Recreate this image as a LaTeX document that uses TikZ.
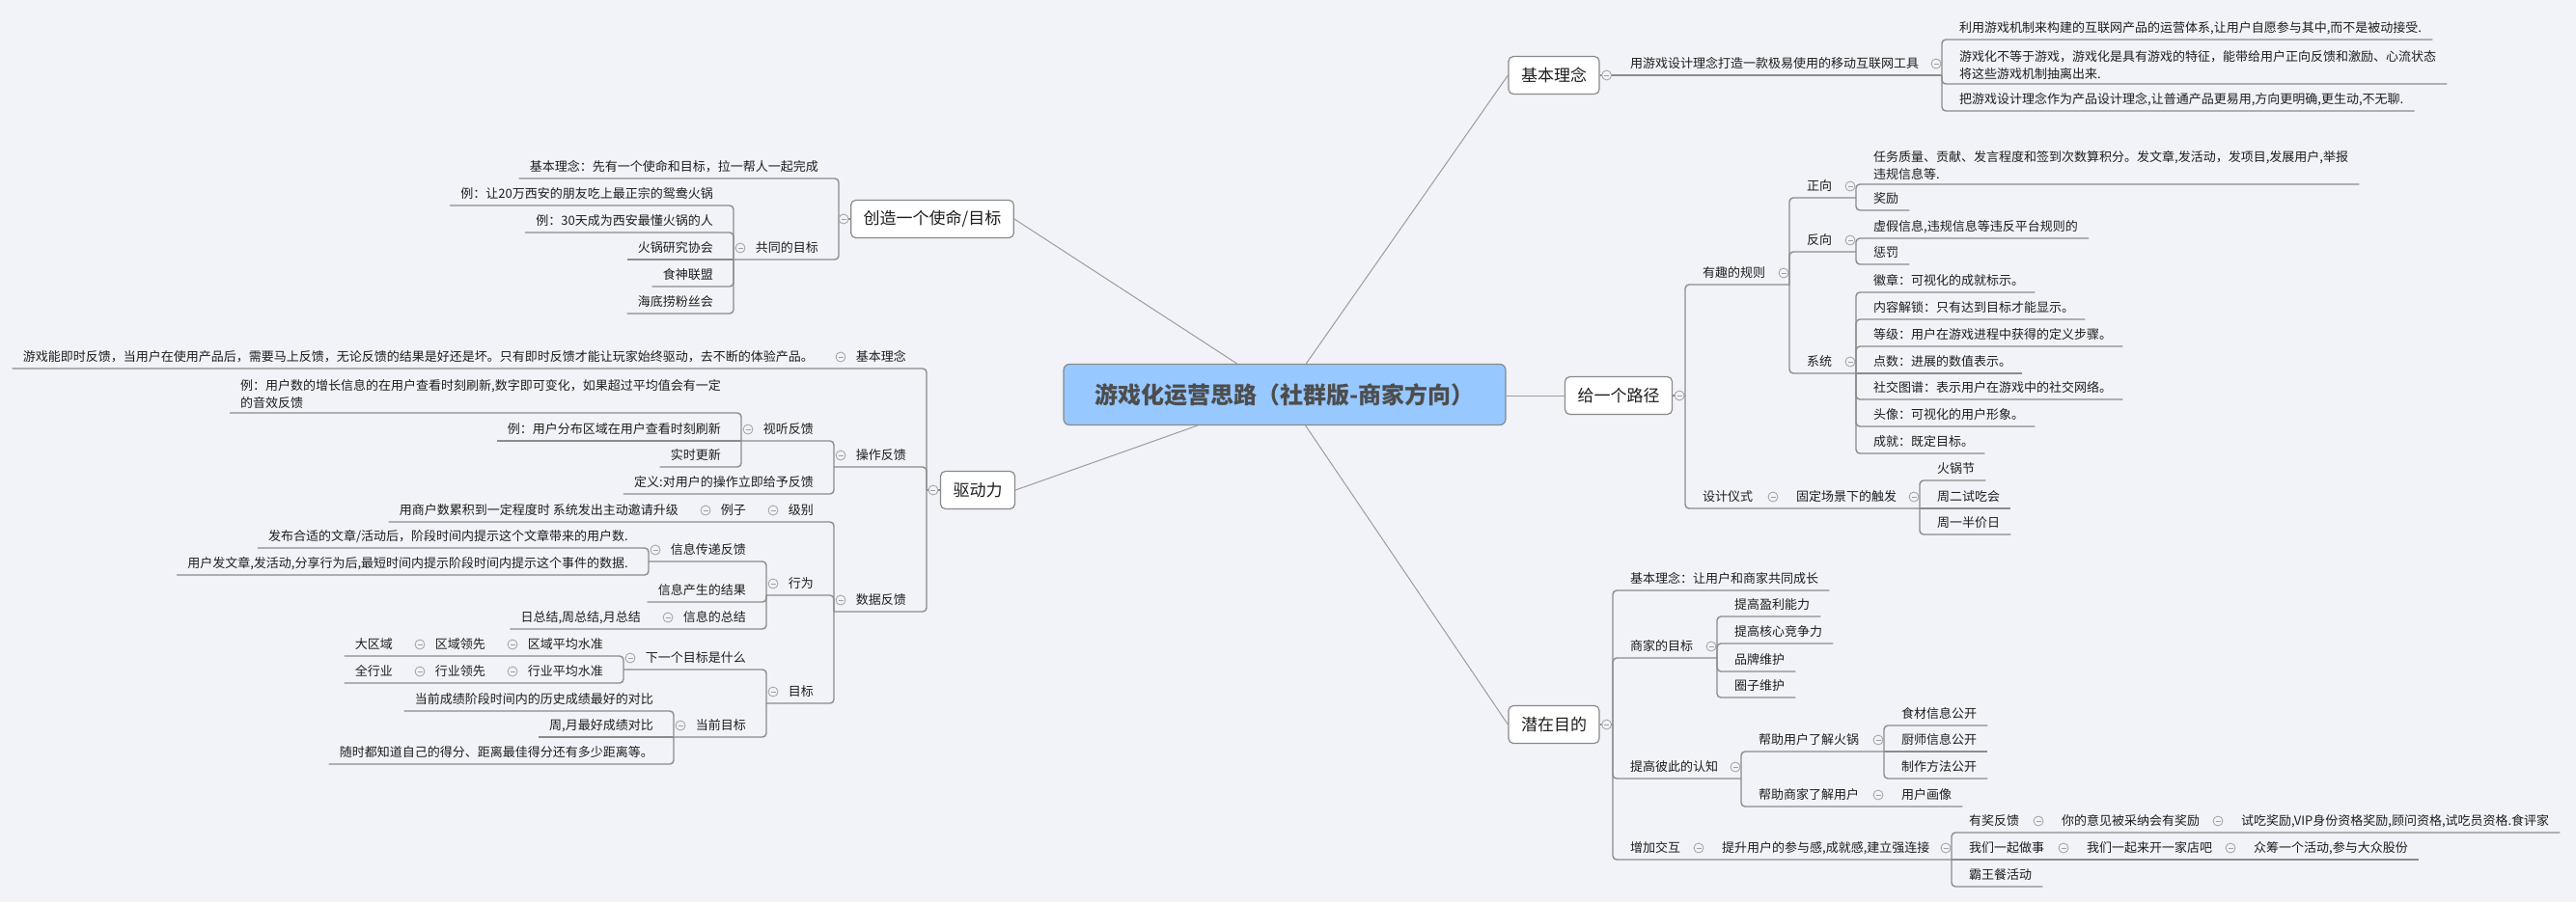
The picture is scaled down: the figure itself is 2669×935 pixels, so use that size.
\documentclass[tikz,border=0pt]{standalone}
\usepackage{fontspec}
\setmainfont{Noto Sans CJK SC}
\usetikzlibrary{calc, backgrounds}

\definecolor{bgpaper}{HTML}{F2F3F8}
\definecolor{linegray}{HTML}{8C8C8C}
\definecolor{spokegray}{HTML}{9C9C9C}
\definecolor{boxline}{HTML}{8A8A8A}
\definecolor{rootfill}{HTML}{97C8FF}
\definecolor{roottext}{HTML}{4D4D4D}
\definecolor{inkgray}{HTML}{1E1E1E}
\definecolor{foldgray}{HTML}{A0A0A0}

\tikzset{
    rootbox/.style={draw=boxline, fill=rootfill, rounded corners=6, line width=1.2, minimum width=458, minimum height=63, text=roottext, font=\fontsize{24}{28}\selectfont\bfseries},
    topicbox/.style={draw=boxline, fill=white, rounded corners=5, line width=1.2, minimum height=39, inner xsep=13, text=inkgray, font=\fontsize{17}{20}\selectfont},
    txt/.style={inner xsep=11, inner ysep=4, text=inkgray, font=\fontsize{13}{18.5}\selectfont},
    leaf/.style={txt, anchor=south west, text height=10, text depth=3},
    lleaf/.style={txt, anchor=south east, text height=10, text depth=3},
    note/.style={txt, anchor=south west, align=left},
    lnote/.style={txt, anchor=south east, align=left},
    twig/.style={draw=linegray, line width=1.4, rounded corners=4},
    spoke/.style={draw=spokegray, line width=1},
    foldmark/.style={circle, draw=foldgray, fill=bgpaper, line width=0.8, minimum size=10, inner sep=0,
        path picture={\draw[foldgray, line width=0.8] ([xshift=-2.5]path picture bounding box.center) -- ([xshift=2.5]path picture bounding box.center);}}
}

\begin{document}
\begin{tikzpicture}[x=1pt, y=-1pt]
    \useasboundingbox (0,0) rectangle (2669,935);

    % Centre
    \node[rootbox] (root) at (1331,409) {游戏化运营思路（社群版-商家方向）};

    % Basic idea
    \node[topicbox] (concept) at (1610,78) {基本理念};
    \coordinate (fCon) at (2012,78);
    \node[leaf] (con) at (1678,78) {用游戏设计理念打造一款极易使用的移动互联网工具};
    \node[leaf] (con1) at (2019,41) {利用游戏机制来构建的互联网产品的运营体系,让用户自愿参与其中,而不是被动接受.};
    \node[note] (con2) at (2019,87) {游戏化不等于游戏，游戏化是具有游戏的特征，能带给用户正向反馈和激励、心流状态\\将这些游戏机制抽离出来.};
    \node[leaf] (con3) at (2019,115) {把游戏设计理念作为产品设计理念,让普通产品更易用,方向更明确,更生动,不无聊.};

    % Give a path
    \node[topicbox] (path) at (1677,410) {给一个路径};
    \coordinate (fPath) at (1746,410);
    \node[leaf] (rule) at (1753,295) {有趣的规则};
    \coordinate (fRule) at (1854,295);
    \node[leaf] (pos) at (1861,205) {正向};
    \coordinate (fPos) at (1923,205);
    \node[note] (pos1) at (1930,191) {任务质量、贡献、发言程度和签到次数算积分。发文章,发活动，发项目,发展用户,举报\\违规信息等.};
    \node[leaf] (pos2) at (1930,218) {奖励};
    \node[leaf] (neg) at (1861,261) {反向};
    \coordinate (fNeg) at (1923,261);
    \node[leaf] (neg1) at (1930,247) {虚假信息,违规信息等违反平台规则的};
    \node[leaf] (neg2) at (1930,274) {惩罚};
    \node[leaf] (sys) at (1861,387) {系统};
    \coordinate (fSys) at (1923,387);
    \node[leaf] (sys1) at (1930,303) {徽章：可视化的成就标示。};
    \node[leaf] (sys2) at (1930,331) {内容解锁：只有达到目标才能显示。};
    \node[leaf] (sys3) at (1930,359) {等级：用户在游戏进程中获得的定义步骤。};
    \node[leaf] (sys4) at (1930,387) {点数：进展的数值表示。};
    \node[leaf] (sys5) at (1930,414) {社交图谱：表示用户在游戏中的社交网络。};
    \node[leaf] (sys6) at (1930,442) {头像：可视化的用户形象。};
    \node[leaf] (sys7) at (1930,470) {成就：既定目标。};
    \node[leaf] (rite) at (1753,527) {设计仪式};
    \coordinate (fRite) at (1843,527);
    \node[leaf] (scene) at (1850,527) {固定场景下的触发};
    \coordinate (fScene) at (1989,527);
    \node[leaf] (rite1) at (1996,498) {火锅节};
    \node[leaf] (rite2) at (1996,527) {周二试吃会};
    \node[leaf] (rite3) at (1996,554) {周一半价日};

    % Hidden aim
    \node[topicbox] (aim) at (1610,751) {潜在目的};
    \coordinate (fAim) at (1671,751);
    \node[leaf] (aim0) at (1678,612) {基本理念：让用户和商家共同成长};
    \node[leaf] (shop) at (1678,682) {商家的目标};
    \coordinate (fShop) at (1779,682);
    \node[leaf] (shop1) at (1786,639) {提高盈利能力};
    \node[leaf] (shop2) at (1786,667) {提高核心竞争力};
    \node[leaf] (shop3) at (1786,696) {品牌维护};
    \node[leaf] (shop4) at (1786,723) {圈子维护};
    \node[leaf] (know) at (1678,807) {提高彼此的认知};
    \coordinate (fKnow) at (1804,807);
    \node[leaf] (knowA) at (1811,779) {帮助用户了解火锅};
    \coordinate (fKnowA) at (1952,779);
    \node[leaf] (knowA1) at (1959,752) {食材信息公开};
    \node[leaf] (knowA2) at (1959,779) {厨师信息公开};
    \node[leaf] (knowA3) at (1959,807) {制作方法公开};
    \node[leaf] (knowB) at (1811,836) {帮助商家了解用户};
    \coordinate (fKnowB) at (1952,836);
    \node[leaf] (knowB1) at (1959,836) {用户画像};
    \node[leaf] (act) at (1678,891) {增加交互};
    \coordinate (fAct) at (1766,891);
    \node[leaf] (act0) at (1773,891) {提升用户的参与感,成就感,建立强连接};
    \coordinate (fAct0) at (2022,891);
    \node[leaf] (actA) at (2029,863) {有奖反馈};
    \coordinate (fActA) at (2118,863);
    \node[leaf] (actA1) at (2125,863) {你的意见被采纳会有奖励};
    \coordinate (fActA1) at (2304,863);
    \node[leaf] (actA2) at (2311,863) {试吃奖励,VIP身份资格奖励,顾问资格,试吃员资格.食评家};
    \node[leaf] (actB) at (2029,891) {我们一起做事};
    \coordinate (fActB) at (2144,891);
    \node[leaf] (actB1) at (2151,891) {我们一起来开一家店吧};
    \coordinate (fActB1) at (2317,891);
    \node[leaf] (actB2) at (2324,891) {众筹一个活动,参与大众股份};
    \node[leaf] (actC) at (2029,919) {霸王餐活动};

    % Create a mission
    \node[topicbox] (mission) at (966,227) {创造一个使命/目标};
    \coordinate (fMis) at (869,227);
    \node[lleaf] (mis0) at (859,185) {基本理念：先有一个使命和目标，拉一帮人一起完成};
    \node[lleaf] (common) at (859,269) {共同的目标};
    \coordinate (fCom) at (760,269);
    \node[lleaf] (com1) at (750,213) {例：让20万西安的朋友吃上最正宗的鸳鸯火锅};
    \node[lleaf] (com2) at (750,241) {例：30天成为西安最懂火锅的人};
    \node[lleaf] (com3) at (750,269) {火锅研究协会};
    \node[lleaf] (com4) at (750,297) {食神联盟};
    \node[lleaf] (com5) at (750,325) {海底捞粉丝会};

    % Driving force
    \node[topicbox] (drive) at (1013,508) {驱动力};
    \coordinate (fDrv) at (960,508);
    \node[lleaf] (dBase) at (950,382) {基本理念};
    \coordinate (fBase) at (864,382);
    \node[lleaf] (dBase1) at (854,382) {游戏能即时反馈，当用户在使用产品后，需要马上反馈，无论反馈的结果是好还是坏。只有即时反馈才能让玩家始终驱动，去不断的体验产品。};
    \node[lleaf] (op) at (950,484) {操作反馈};
    \coordinate (fOp) at (864,484);
    \node[lleaf] (av) at (854,457) {视听反馈};
    \coordinate (fAv) at (768,457);
    \node[lnote] (av1) at (758,428) {例：用户数的增长信息的在用户查看时刻刷新,数字即可变化，如果超过平均值会有一定\\的音效反馈};
    \node[lleaf] (av2) at (758,457) {例：用户分布区域在用户查看时刻刷新};
    \node[lleaf] (av3) at (758,484) {实时更新};
    \node[lleaf] (op2) at (854,512) {定义:对用户的操作立即给予反馈};
    \node[lleaf] (data) at (950,634) {数据反馈};
    \coordinate (fData) at (864,634);
    \node[lleaf] (lvl) at (854,541) {级别};
    \coordinate (fLvl) at (794,541);
    \node[lleaf] (lvlEx) at (784,541) {例子};
    \coordinate (fLvlEx) at (724,541);
    \node[lleaf] (lvlEx1) at (714,541) {用商户数累积到一定程度时 系统发出主动邀请升级};
    \node[lleaf] (beh) at (854,617) {行为};
    \coordinate (fBeh) at (794,617);
    \node[lleaf] (relay) at (784,582) {信息传递反馈};
    \coordinate (fRelay) at (672,582);
    \node[lleaf] (relay1) at (662,568) {发布合适的文章/活动后，阶段时间内提示这个文章带来的用户数.};
    \node[lleaf] (relay2) at (662,596) {用户发文章,发活动,分享行为后,最短时间内提示阶段时间内提示这个事件的数据.};
    \node[lleaf] (result) at (784,624) {信息产生的结果};
    \node[lleaf] (summ) at (784,652) {信息的总结};
    \coordinate (fSumm) at (685,652);
    \node[lleaf] (summ1) at (675,652) {日总结,周总结,月总结};
    \node[lleaf] (tgt) at (854,729) {目标};
    \coordinate (fTgt) at (794,729);
    \node[lleaf] (next) at (784,694) {下一个目标是什么};
    \coordinate (fNext) at (646,694);
    \node[lleaf] (nextA) at (636,680) {区域平均水准};
    \coordinate (fNextA) at (524,680);
    \node[lleaf] (nextA1) at (514,680) {区域领先};
    \coordinate (fNextA1) at (428,680);
    \node[lleaf] (nextA2) at (418,680) {大区域};
    \node[lleaf] (nextB) at (636,708) {行业平均水准};
    \coordinate (fNextB) at (524,708);
    \node[lleaf] (nextB1) at (514,708) {行业领先};
    \coordinate (fNextB1) at (428,708);
    \node[lleaf] (nextB2) at (418,708) {全行业};
    \node[lleaf] (now) at (784,764) {当前目标};
    \coordinate (fNow) at (698,764);
    \node[lleaf] (now1) at (688,737) {当前成绩阶段时间内的历史成绩最好的对比};
    \node[lleaf] (now2) at (688,764) {周,月最好成绩对比};
    \node[lleaf] (now3) at (688,792) {随时都知道自己的得分、距离最佳得分还有多少距离等。};

    \begin{scope}[on background layer]
        \fill[bgpaper] (0,0) rectangle (2669,935);
        % spokes from the centre
        \draw[spoke] (root) -- (concept.west);
        \draw[spoke] (root.east |- path.west) -- (path.west);
        \draw[spoke] (root) -- (aim.west);
        \draw[spoke] (root) -- (mission.east);
        \draw[spoke] (root) -- (drive.east);

        % right side
        \draw[twig] (concept.east) -- (fCon);
        \draw[twig] (fCon) |- (con1.south east);
        \draw[twig] (fCon) |- (con2.south east);
        \draw[twig] (fCon) |- (con3.south east);

        \draw[twig] (path.east) -- (fPath);
        \draw[twig] (fPath) |- (fRule);
        \draw[twig] (fPath) |- (fScene);
        \draw[twig] (fRule) |- (fPos);
        \draw[twig] (fRule) |- (fNeg);
        \draw[twig] (fRule) |- (fSys);
        \draw[twig] (fPos) |- (pos1.south east);
        \draw[twig] (fPos) |- (pos2.south east);
        \draw[twig] (fNeg) |- (neg1.south east);
        \draw[twig] (fNeg) |- (neg2.south east);
        \draw[twig] (fSys) |- (sys1.south east);
        \draw[twig] (fSys) |- (sys2.south east);
        \draw[twig] (fSys) |- (sys3.south east);
        \draw[twig] (fSys) -- (sys4.south east);
        \draw[twig] (fSys) |- (sys5.south east);
        \draw[twig] (fSys) |- (sys6.south east);
        \draw[twig] (fSys) |- (sys7.south east);
        \draw[twig] (fScene) |- (rite1.south east);
        \draw[twig] (fScene) -- (rite2.south east);
        \draw[twig] (fScene) |- (rite3.south east);

        \draw[twig] (aim.east) -- (fAim);
        \draw[twig] (fAim) |- (aim0.south east);
        \draw[twig] (fAim) |- (fShop);
        \draw[twig] (fAim) |- (fKnow);
        \draw[twig] (fAim) |- (fAct0);
        \draw[twig] (fShop) |- (shop1.south east);
        \draw[twig] (fShop) |- (shop2.south east);
        \draw[twig] (fShop) |- (shop3.south east);
        \draw[twig] (fShop) |- (shop4.south east);
        \draw[twig] (fKnow) |- (fKnowA);
        \draw[twig] (fKnow) |- (knowB1.south east);
        \draw[twig] (fKnowA) |- (knowA1.south east);
        \draw[twig] (fKnowA) -- (knowA2.south east);
        \draw[twig] (fKnowA) |- (knowA3.south east);
        \draw[twig] (fAct0) |- (actA2.south east);
        \draw[twig] (fAct0) -- (actB2.south east);
        \draw[twig] (fAct0) |- (actC.south east);

        % left side
        \draw[twig] (mission.west) -- (fMis);
        \draw[twig] (fMis) |- (mis0.south west);
        \draw[twig] (fMis) |- (fCom);
        \draw[twig] (fCom) |- (com1.south west);
        \draw[twig] (fCom) |- (com2.south west);
        \draw[twig] (fCom) -- (com3.south west);
        \draw[twig] (fCom) |- (com4.south west);
        \draw[twig] (fCom) |- (com5.south west);

        \draw[twig] (drive.west) -- (fDrv);
        \draw[twig] (fDrv) |- (dBase1.south west);
        \draw[twig] (fDrv) |- (fOp);
        \draw[twig] (fDrv) |- (fData);
        \draw[twig] (fOp) |- (fAv);
        \draw[twig] (fOp) |- (op2.south west);
        \draw[twig] (fAv) |- (av1.south west);
        \draw[twig] (fAv) -- (av2.south west);
        \draw[twig] (fAv) |- (av3.south west);
        \draw[twig] (fData) |- (lvlEx1.south west);
        \draw[twig] (fData) |- (fBeh);
        \draw[twig] (fData) |- (fTgt);
        \draw[twig] (fBeh) |- (fRelay);
        \draw[twig] (fBeh) |- (result.south west);
        \draw[twig] (fBeh) |- (summ1.south west);
        \draw[twig] (fRelay) |- (relay1.south west);
        \draw[twig] (fRelay) |- (relay2.south west);
        \draw[twig] (fTgt) |- (fNext);
        \draw[twig] (fTgt) |- (fNow);
        \draw[twig] (fNext) |- (nextA2.south west);
        \draw[twig] (fNext) |- (nextB2.south west);
        \draw[twig] (fNow) |- (now1.south west);
        \draw[twig] (fNow) -- (now2.south west);
        \draw[twig] (fNow) |- (now3.south west);
    \end{scope}

    % fold marks, right side
    \node[foldmark] at ($(concept.east)+(7,0)$) {};
    \node[foldmark] at ($(path.east)+(7,0)$) {};
    \node[foldmark] at ($(aim.east)+(7,0)$) {};
    \node[foldmark] at ($(fCon)+(-6,-12)$) {};
    \node[foldmark] at ($(fRule)+(-6,-12)$) {};
    \node[foldmark] at ($(fPos)+(-6,-12)$) {};
    \node[foldmark] at ($(fNeg)+(-6,-12)$) {};
    \node[foldmark] at ($(fSys)+(-6,-12)$) {};
    \node[foldmark] at ($(fRite)+(-6,-12)$) {};
    \node[foldmark] at ($(fScene)+(-6,-12)$) {};
    \node[foldmark] at ($(fShop)+(-6,-12)$) {};
    \node[foldmark] at ($(fKnow)+(-6,-12)$) {};
    \node[foldmark] at ($(fKnowA)+(-6,-12)$) {};
    \node[foldmark] at ($(fKnowB)+(-6,-12)$) {};
    \node[foldmark] at ($(fAct)+(-6,-12)$) {};
    \node[foldmark] at ($(fAct0)+(-6,-12)$) {};
    \node[foldmark] at ($(fActA)+(-6,-12)$) {};
    \node[foldmark] at ($(fActA1)+(-6,-12)$) {};
    \node[foldmark] at ($(fActB)+(-6,-12)$) {};
    \node[foldmark] at ($(fActB1)+(-6,-12)$) {};

    % fold marks, left side
    \node[foldmark] at ($(mission.west)+(-7,0)$) {};
    \node[foldmark] at ($(drive.west)+(-7,0)$) {};
    \node[foldmark] at ($(fCom)+(7,-12)$) {};
    \node[foldmark] at ($(fBase)+(7,-12)$) {};
    \node[foldmark] at ($(fOp)+(7,-12)$) {};
    \node[foldmark] at ($(fAv)+(7,-12)$) {};
    \node[foldmark] at ($(fData)+(7,-12)$) {};
    \node[foldmark] at ($(fLvl)+(7,-12)$) {};
    \node[foldmark] at ($(fLvlEx)+(7,-12)$) {};
    \node[foldmark] at ($(fBeh)+(7,-12)$) {};
    \node[foldmark] at ($(fRelay)+(7,-12)$) {};
    \node[foldmark] at ($(fSumm)+(7,-12)$) {};
    \node[foldmark] at ($(fTgt)+(7,-12)$) {};
    \node[foldmark] at ($(fNext)+(7,-12)$) {};
    \node[foldmark] at ($(fNextA)+(7,-12)$) {};
    \node[foldmark] at ($(fNextA1)+(7,-12)$) {};
    \node[foldmark] at ($(fNextB)+(7,-12)$) {};
    \node[foldmark] at ($(fNextB1)+(7,-12)$) {};
    \node[foldmark] at ($(fNow)+(7,-12)$) {};
\end{tikzpicture}
\end{document}
